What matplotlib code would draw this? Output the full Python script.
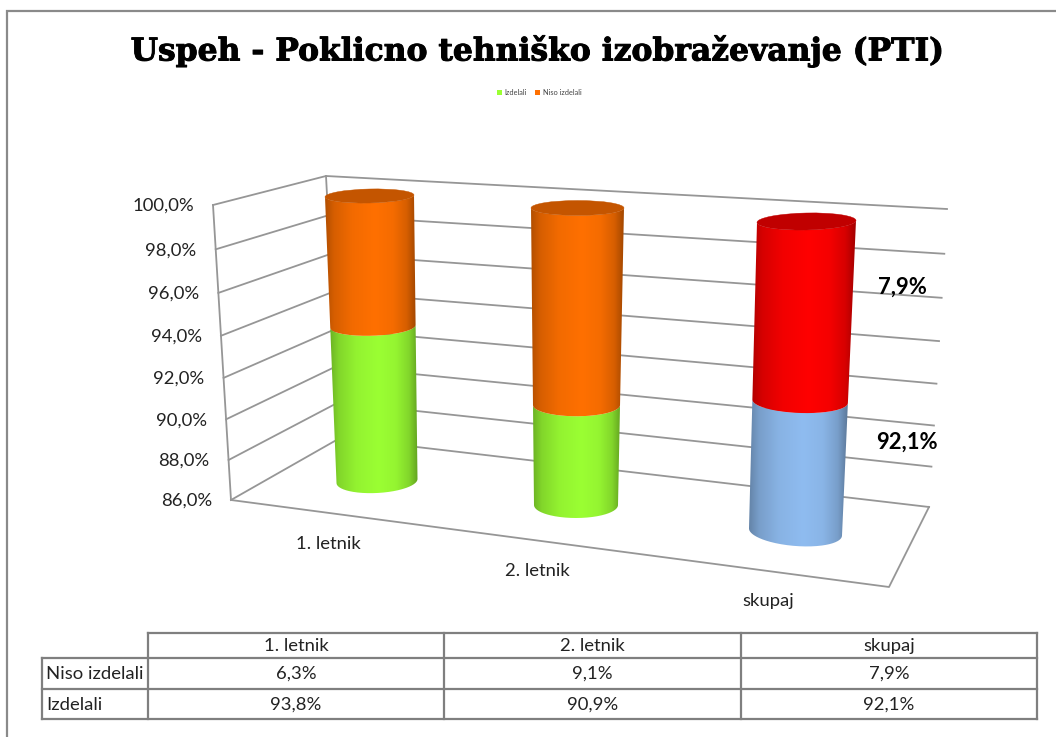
"""Uspeh PTI: fake 3D stacked cylinders, drawn in a pixel-sized axes."""
import numpy as np
import matplotlib
matplotlib.use("Agg")
import matplotlib.pyplot as plt
import matplotlib.patheffects as pe
from matplotlib.colors import to_rgb
from matplotlib.patches import Ellipse, PathPatch, Rectangle
from matplotlib.path import Path

categories = ["1. letnik", "2. letnik", "skupaj"]
niso_izdelali = [6.3, 9.1, 7.9]
izdelali = [93.8, 90.9, 92.1]
series_names = ["Izdelali", "Niso izdelali"]
axis_ticks = [86, 88, 90, 92, 94, 96, 98, 100]
title = "Uspeh - Poklicno tehniško izobraževanje (PTI)"

AXMIN, AXMAX = 86.0, 100.0
GRID, TBL = "#969696", "#7f7f7f"
TXT = "#222222"
FONT = "Lato"
FS = 13.3

# wall corners in pixels, (at 86 %, at 100 %)
FL = ((231, 500), (213, 205))
BL = ((340, 438), (326, 176))
BR = ((929, 507), (947, 209))
FR = (889, 587)
# one cylinder per category: (x centre, half width, half depth, y centre, tilt) at 86 % and at 100 %
CYL = [
    ((377, 40.5, 12, 481, -2), (369.5, 44.5, 7, 196, -1)),
    ((576, 42, 13, 505, 0), (577.5, 46.5, 7.5, 208, 0)),
    ((795.5, 46.5, 14, 532, 3.5), (806.5, 49.5, 8.5, 221.5, -1)),
]
SHADES = ["#9bff33", "#9bff33", "#8fbcf0"]
TOPS = [("#ff7000", "#c45500"), ("#ff7000", "#c45500"), ("#ff0000", "#c00000")]
STOP_T = [0.0, 0.1, 0.3, 0.55, 0.75, 0.9, 1.0]
STOP_B = [0.7, 0.84, 0.95, 1.0, 0.96, 0.84, 0.64]
CAT_POS = [(328, 549), (537, 576), (768, 606)]


def pct(v):
    return f"{v:.1f}%".replace(".", ",")


def frac(v):
    t = (v - AXMIN) / (AXMAX - AXMIN)
    return t - 0.06 * t * (1 - t)  # spacing grows a bit towards the top


def corner(c, v):
    t = frac(v)
    return c[0][0] + (c[1][0] - c[0][0]) * t, c[0][1] + (c[1][1] - c[0][1]) * t


def geom(i, v):
    lo, hi = CYL[i]
    t = frac(v)
    return [a + (b - a) * t for a, b in zip(lo, hi)]


def front_arc(i, v, u):
    cx, rx, ry, cy, tilt = geom(i, v)
    return cx + rx * u, cy + tilt * u + ry * np.sqrt(np.clip(1 - u * u, 0, 1))


def segment(ax, i, v0, v1, base, z):
    u = np.cos(np.linspace(np.pi, 0, 121))
    x0, y0 = front_arc(i, v0, u)
    x1, y1 = front_arc(i, v1, u)
    verts = np.vstack([np.column_stack([x0, y0]), np.column_stack([x1, y1])[::-1]])
    left, right = verts[:, 0].min(), verts[:, 0].max()
    tt = np.linspace(0, 1, 256)
    grad = np.array(to_rgb(base))[None, None, :] * np.interp(tt, STOP_T, STOP_B)[None, :, None]
    im = ax.imshow(grad, extent=(left, right, verts[:, 1].max() + 1, verts[:, 1].min() - 1),
                   aspect="auto", interpolation="bilinear", zorder=z)
    patch = PathPatch(Path(verts), transform=ax.transData, facecolor="none", edgecolor="none")
    ax.add_patch(patch)
    im.set_clip_path(patch)


plt.rcParams["font.family"] = [FONT, "DejaVu Sans"]
fig = plt.figure(figsize=(10.56, 7.37), dpi=100)
ax = fig.add_axes([0, 0, 1, 1])
ax.axis("off")

# chart border
ax.plot([7, 7, 1056], [737, 11, 11], color="#8a8a8a", lw=1.6, solid_joinstyle="miter")

t = ax.text(537.5, 51, title, family="DejaVu Serif", weight="bold", fontsize=22.6, ha="center", va="center", color="black")
t.set_path_effects([pe.withStroke(linewidth=0.7, foreground="black")])

# legend
for name, c, sq, tx in zip(series_names, [SHADES[0], TOPS[0][0]], [497, 535], [504, 543]):
    ax.add_patch(Rectangle((sq, 90), 5, 5, color=c, lw=0))
    ax.text(tx, 92.5, name, fontsize=5.3, ha="left", va="center", color="#444444")

# walls and floor
for v in axis_ticks:
    fl, bl, br = corner(FL, v), corner(BL, v), corner(BR, v)
    ax.plot([fl[0], bl[0], br[0]], [fl[1], bl[1], br[1]], color=GRID, lw=1.3, zorder=1)
    ax.text(fl[0] - 19, fl[1] + 6, pct(v), fontsize=FS, ha="right", va="baseline", color=TXT)
for c in (FL, BL):
    ax.plot([c[0][0], c[1][0]], [c[0][1], c[1][1]], color=GRID, lw=1.3, zorder=1)
ax.plot([FL[0][0], FR[0], BR[0][0]], [FL[0][1], FR[1], BR[0][1]], color=GRID, lw=1.3, zorder=1)

# cylinders
for i in range(len(categories)):
    top = min(AXMAX, izdelali[i] + niso_izdelali[i])
    segment(ax, i, AXMIN, izdelali[i], SHADES[i], 3)
    segment(ax, i, izdelali[i], top, TOPS[i][0], 4)
    cx, rx, ry, cy, tilt = geom(i, top)
    ax.add_patch(Ellipse((cx, cy), 2 * rx, 2 * ry, angle=np.degrees(np.arctan2(tilt, rx)),
                         facecolor=TOPS[i][1], edgecolor=TOPS[i][1], lw=0.3, zorder=5))
    ax.text(*CAT_POS[i], categories[i], fontsize=FS, ha="center", va="baseline", color=TXT)

# data labels of the last cylinder
ax.text(902, 294, pct(niso_izdelali[2]), fontsize=15.8, weight="bold", ha="center", va="baseline", color="black", zorder=6)
ax.text(907, 449, pct(izdelali[2]), fontsize=15.8, weight="bold", ha="center", va="baseline", color="black", zorder=6)

# data table
xs = [148, 444, 741, 1037]
ys = [633, 658, 689, 719]
for x in xs:
    ax.plot([x, x], [ys[0], ys[-1]], color=TBL, lw=1.6)
ax.plot([42, 42], [ys[1], ys[-1]], color=TBL, lw=1.6)
ax.plot([xs[0], xs[-1]], [ys[0], ys[0]], color=TBL, lw=1.6)
for y in ys[1:]:
    ax.plot([42, xs[-1]], [y, y], color=TBL, lw=1.6)
for j, cat in enumerate(categories):
    xc = (xs[j] + xs[j + 1]) / 2
    ax.text(xc, ys[0] + 18, cat, fontsize=FS, ha="center", va="baseline", color=TXT)
    ax.text(xc, ys[1] + 21, pct(niso_izdelali[j]), fontsize=FS, ha="center", va="baseline", color=TXT)
    ax.text(xc, ys[2] + 21, pct(izdelali[j]), fontsize=FS, ha="center", va="baseline", color=TXT)
ax.text(46, ys[1] + 21, series_names[1], fontsize=FS, ha="left", va="baseline", color=TXT)
ax.text(46, ys[2] + 21, series_names[0], fontsize=FS, ha="left", va="baseline", color=TXT)

ax.set_xlim(0, 1056); ax.set_ylim(737, 0)
fig.savefig("out.png", dpi=100)
